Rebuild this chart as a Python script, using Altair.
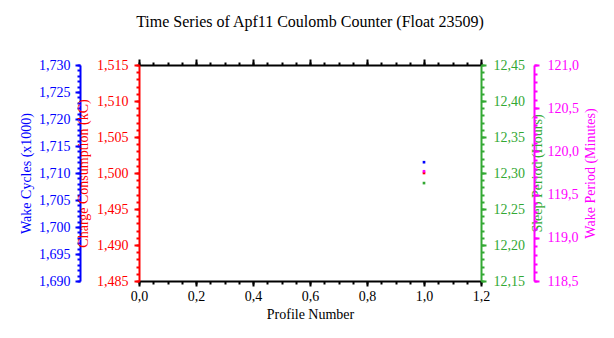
import altair as alt
import pandas as pd

# ---- data ----
profile = [1.0]
wake_cycles = [1.712]      # x1000
charge_kc = [1.500]
sleep_hours = [12.286]
wake_minutes = [119.77]

df = pd.DataFrame({
    "profile": profile,
    "wake": wake_cycles,
    "charge": charge_kc,
    "sleep": sleep_hours,
    "wakemin": wake_minutes,
})

FONT = "Liberation Serif"
W, H = 342, 216
X_DOMAIN = [0, 1.2]
X_MAJOR = [0.0, 0.2, 0.4, 0.6, 0.8, 1.0, 1.2]
X_MINOR = [round(i * 0.05, 2) for i in range(25)]

GREEN = "#33a833"


def frange(a, b, step, nd):
    out = []
    n = int(round((b - a) / step))
    for i in range(n + 1):
        out.append(round(a + i * step, nd))
    return out


def xscale():
    return alt.Scale(domain=X_DOMAIN, nice=False, zero=False)


def x_axis(kind):
    if kind is None:
        return None
    orient, major = kind
    common = dict(orient=orient, grid=False, domainColor="black", domainWidth=2,
                  tickColor="black", tickWidth=2, labelFlush=False)
    if major:
        if orient == "bottom":
            return alt.Axis(values=X_MAJOR, tickSize=5, labels=True,
                            labelExpr="replace(format(datum.value, '.1f'), '.', ',')",
                            labelFont=FONT, labelFontSize=14, labelColor="black",
                            labelPadding=3,
                            title="Profile Number", titleFont=FONT, titleFontSize=14,
                            titleFontWeight="normal", titleColor="black",
                            titleX=W / 2, titleY=37, titleBaseline="alphabetic",
                            titleAlign="center", **common)
        return alt.Axis(values=X_MAJOR, tickSize=6, labels=False, title=None, **common)
    return alt.Axis(values=X_MINOR, tickSize=3, labels=False, domain=False, title=None,
                    **common)


def y_layer(field, color, domain, major_vals, minor_vals, orient, offset, title,
            title_x, digits, label_pad, xkind_major, xkind_minor):
    ysc = alt.Scale(domain=domain, nice=False, zero=False)
    fmt = "replace(format(datum.value, '.%df'), '.', ',')" % digits
    major_axis = alt.Axis(
        orient=orient, offset=offset, values=major_vals, grid=False,
        domainColor=color, domainWidth=2, tickColor=color, tickWidth=2, tickSize=5,
        labelExpr=fmt, labelFont=FONT, labelFontSize=14, labelColor=color,
        labelPadding=label_pad, labelFlush=False,
        title=title, titleFont=FONT, titleFontSize=14, titleFontWeight="normal",
        titleColor=color, titleAngle=270, titleAlign="center", titleBaseline="middle",
        titleX=title_x, titleY=H / 2,
    )
    minor_axis = alt.Axis(
        orient=orient, offset=offset, values=minor_vals, grid=False, domain=False,
        tickColor=color, tickWidth=2, tickSize=3, labels=False, title=None,
    )
    base = alt.Chart(df)
    pts = base.mark_square(size=7, color=color, opacity=1).encode(
        x=alt.X("profile:Q", scale=xscale(), axis=x_axis(xkind_major)),
        y=alt.Y(f"{field}:Q", scale=ysc, axis=major_axis),
    )
    mnr = base.mark_square(size=1, opacity=0).encode(
        x=alt.X("profile:Q", scale=xscale(), axis=x_axis(xkind_minor)),
        y=alt.Y(f"{field}:Q", scale=alt.Scale(domain=domain, nice=False, zero=False),
                axis=minor_axis),
    )
    return [pts, mnr]


layers = []
layers += y_layer("wake", "#0000ff", [1.690, 1.730],
                  frange(1.690, 1.730, 0.005, 3), frange(1.690, 1.730, 0.001, 3),
                  "left", 59, "Wake Cycles (x1000)", -54, 3, 5,
                  ("bottom", True), ("bottom", False))
layers += y_layer("charge", "#ff0000", [1.485, 1.515],
                  frange(1.485, 1.515, 0.005, 3), frange(1.485, 1.515, 0.001, 3),
                  "left", 0, "Charge Consumption (kC)", -56, 3, 6,
                  ("top", True), ("top", False))
layers += y_layer("sleep", GREEN, [12.15, 12.45],
                  frange(12.15, 12.45, 0.05, 2), frange(12.15, 12.45, 0.01, 2),
                  "right", 0, "Sleep Period (Hours)", 56, 2, 7,
                  None, None)
layers += y_layer("wakemin", "#ff00ff", [118.5, 121.0],
                  frange(118.5, 121.0, 0.5, 1), frange(118.5, 121.0, 0.1, 1),
                  "right", 53, "Wake Period (Minutes)", 56, 1, 8,
                  None, None)

chart = alt.layer(*layers).resolve_scale(
    x="independent", y="independent"
).resolve_axis(
    x="independent", y="independent"
).properties(
    width=W, height=H,
    title=alt.TitleParams(
        "Time Series of Apf11 Coulomb Counter (Float 23509)",
        font=FONT, fontSize=16, fontWeight="normal", color="black",
        anchor="middle", offset=15, baseline="alphabetic",
    ),
    autosize=alt.AutoSizeParams(type="none"),
    padding={"left": 139, "top": 65, "right": 133, "bottom": 57},
    background="white",
).configure_view(stroke=None)

chart.save("out.html", embed_options={"renderer": "svg", "actions": False})
